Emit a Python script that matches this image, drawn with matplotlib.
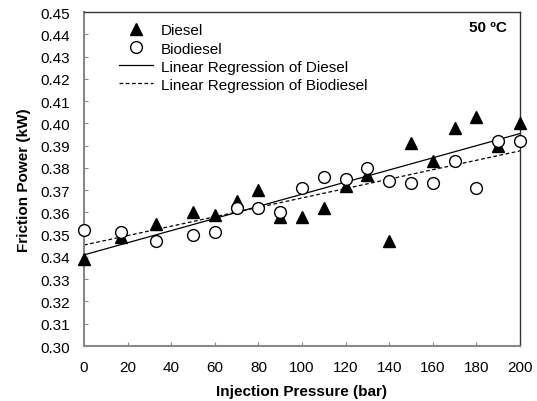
import numpy as np
import matplotlib
matplotlib.use("Agg")
import matplotlib.pyplot as plt

plt.rcParams['font.family'] = ['Liberation Sans', 'DejaVu Sans']

pressure = [0, 17, 33, 50, 60, 70, 80, 90, 100, 110, 120, 130, 140, 150, 160, 170, 180, 190, 200]
diesel = [0.339, 0.349, 0.355, 0.360, 0.359, 0.365, 0.370, 0.358, 0.358, 0.362,
          0.372, 0.377, 0.347, 0.391, 0.383, 0.398, 0.403, 0.390, 0.400]
biodiesel = [0.352, 0.351, 0.347, 0.350, 0.351, 0.362, 0.362, 0.360, 0.371, 0.376,
             0.375, 0.380, 0.374, 0.373, 0.373, 0.383, 0.371, 0.392, 0.392]

x = np.array(pressure, dtype=float)
pd_ = np.polyfit(x, diesel, 1)
pb_ = np.polyfit(x, biodiesel, 1)
xl = np.array([0, 200])

fig = plt.figure(figsize=(5.37, 4.02), dpi=100)
ax = fig.add_axes([84/537, 1-347/402, 436/537, 334/402])

ax.plot(x, diesel, '^', color='black', ms=8.5, clip_on=False, zorder=3, label='Diesel')
ax.plot(x, biodiesel, 'o', mfc='white', mec='black', mew=1, ms=8.5, clip_on=False,
        zorder=4, label='Biodiesel')
ax.plot(xl, np.polyval(pd_, xl), '-', color='black', lw=0.9, label='Linear Regression of Diesel')
ax.plot(xl, np.polyval(pb_, xl), '--', color='black', lw=0.9, dashes=(3, 2),
        label='Linear Regression of Biodiesel')

ax.set_xlim(0, 200)
ax.set_ylim(0.30, 0.45)
ax.set_xticks(np.arange(0, 201, 20))
ax.set_yticks(np.arange(0.30, 0.451, 0.01))
ax.set_yticklabels(['%.2f' % v for v in np.arange(0.30, 0.451, 0.01)])

ax.tick_params(direction='in', length=3, color='#888888', labelsize=11, pad=10)
for s in ['left', 'bottom']:
    ax.spines[s].set_color('#888888')
    ax.spines[s].set_linewidth(1.5)
for s in ['top', 'right']:
    ax.spines[s].set_color('#333333')
    ax.spines[s].set_linewidth(1.0)

ax.set_xlabel('Injection Pressure (bar)', fontsize=11, fontweight='bold', labelpad=7)
ax.set_ylabel('Friction Power (kW)', fontsize=11, fontweight='bold', labelpad=7)

ax.text(0.97, 0.955, '50 ºC', transform=ax.transAxes, ha='right', va='center',
        fontsize=11, fontweight='bold')

ax.legend(loc='upper left', bbox_to_anchor=(0.055, 1.0), frameon=False, fontsize=11,
          handlelength=2.2, labelspacing=0.27, handletextpad=0.5, borderaxespad=0.35)

fig.savefig('out.png', dpi=100)
